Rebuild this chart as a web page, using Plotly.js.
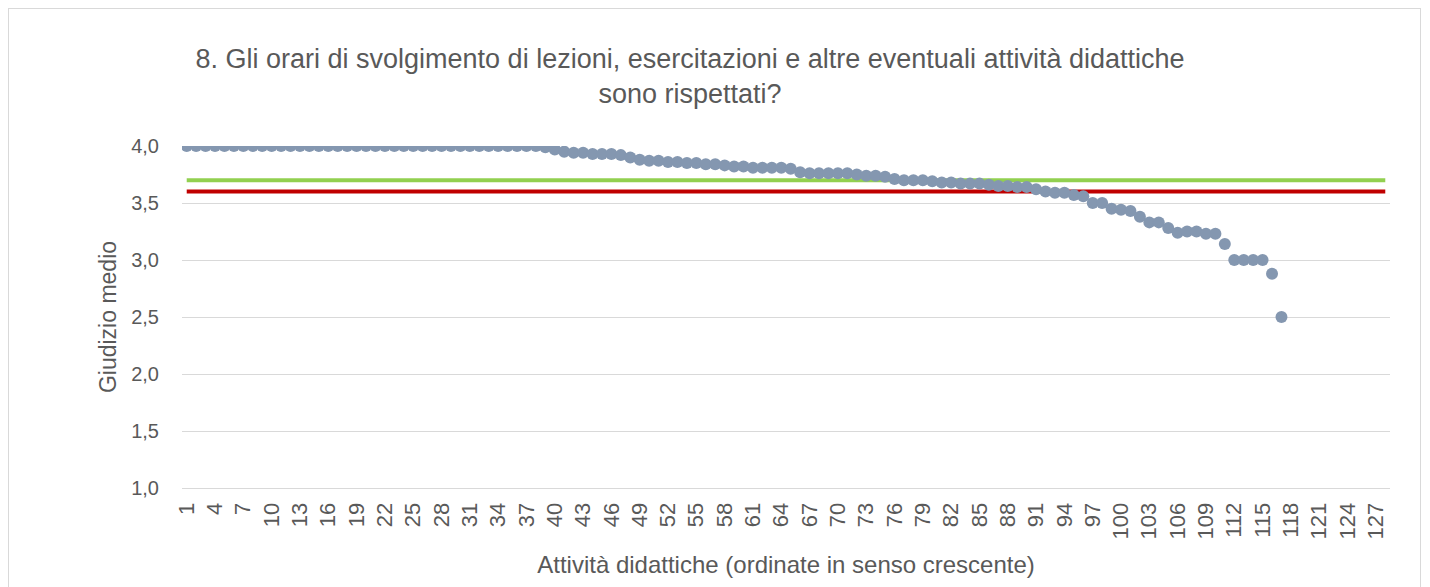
<!DOCTYPE html>
<html>
<head>
<meta charset="utf-8">
<script src="https://cdn.plot.ly/plotly-3.0.1.min.js"></script>
<style>
html,body{margin:0;padding:0;background:#fff;overflow:hidden;}
#chart{width:1430px;height:587px;position:absolute;left:0;top:0;}
#frame{position:absolute;left:8px;top:8px;width:1411px;height:600px;border:1px solid #d9d9d9;pointer-events:none;}
</style>
</head>
<body>
<div id="chart"></div>
<div id="frame"></div>
<script>
// Number of category slots on the x axis
const categoryCount = 128;
// Average rating per teaching activity, sorted (activities 1..117)
const giudizioMedio = [
  4.00,4.00,4.00,4.00,4.00,4.00,4.00,4.00,4.00,4.00,
  4.00,4.00,4.00,4.00,4.00,4.00,4.00,4.00,4.00,4.00,
  4.00,4.00,4.00,4.00,4.00,4.00,4.00,4.00,4.00,4.00,
  4.00,4.00,4.00,4.00,4.00,4.00,4.00,4.00,3.99,3.97,
  3.95,3.94,3.94,3.93,3.93,3.93,3.92,3.90,3.88,3.87,
  3.87,3.86,3.86,3.85,3.85,3.84,3.84,3.83,3.82,3.82,
  3.81,3.81,3.81,3.81,3.80,3.77,3.76,3.76,3.76,3.76,
  3.76,3.75,3.74,3.74,3.73,3.71,3.70,3.70,3.70,3.69,
  3.68,3.68,3.67,3.67,3.67,3.66,3.65,3.65,3.64,3.64,
  3.62,3.60,3.59,3.59,3.57,3.56,3.50,3.50,3.45,3.44,
  3.43,3.38,3.33,3.33,3.28,3.24,3.25,3.25,3.23,3.23,
  3.14,3.00,3.00,3.00,3.00,2.88,2.50
];
// Reference lines
const lineaVerde = 3.7;
const lineaRossa = 3.6;
// Tick labels every 3 categories (1..127)
const tickValues = [];
for (let i = 1; i <= 127; i += 3) tickValues.push(i);
const tickLabels = tickValues.map(String);
const yTicks = [1.0,1.5,2.0,2.5,3.0,3.5,4.0];

const xs = giudizioMedio.map((_, i) => i + 1);
const txtColor = '#595959';
const font = 'Liberation Sans, Arial, sans-serif';

const traces = [
  {x:[1, categoryCount], y:[lineaVerde, lineaVerde], mode:'lines', line:{color:'#92d050', width:4}, hoverinfo:'skip', showlegend:false},
  {x:[1, categoryCount], y:[lineaRossa, lineaRossa], mode:'lines', line:{color:'#c00000', width:4}, hoverinfo:'skip', showlegend:false},
  {x:xs, y:giudizioMedio, mode:'markers', marker:{color:'#8497b0', size:12}, showlegend:false}
];

const layout = {
  width:1430, height:587,
  paper_bgcolor:'#fff', plot_bgcolor:'#fff',
  separators:',.',
  font:{family:font, color:txtColor, size:16},
  margin:{l:182, r:40, t:146, b:99, autoexpand:false},
  title:{
    text:'8. Gli orari di svolgimento di lezioni, esercitazioni e altre eventuali attività didattiche<br>sono rispettati?',
    font:{family:font, size:27, color:txtColor},
    xref:'container', yref:'container', x:690/1430, xanchor:'center', y:1-68/587, yanchor:'middle'
  },
  xaxis:{
    range:[0.5, categoryCount + 0.5],
    tickmode:'array', tickvals:tickValues, ticktext:tickLabels,
    tickangle:-90, tickfont:{size:22, color:txtColor},
    showgrid:false, zeroline:false,
    showline:true, linecolor:'#d9d9d9', linewidth:1,
    ticks:'outside', ticklen:5, tickcolor:'rgba(0,0,0,0)', automargin:false,
    title:{text:'Attività didattiche (ordinate in senso crescente)', font:{size:24, color:txtColor}, standoff:17}
  },
  yaxis:{
    range:[1, 4], tickmode:'array', tickvals:yTicks, tickformat:'.1f',
    tickfont:{size:20, color:txtColor},
    showgrid:true, gridcolor:'#d9d9d9', gridwidth:1,
    zeroline:false, showline:false,
    ticks:'outside', ticklen:18, tickcolor:'rgba(0,0,0,0)', automargin:false,
    title:{text:'Giudizio medio', font:{size:23, color:txtColor}, standoff:8}
  }
};

Plotly.newPlot('chart', traces, layout, {displayModeBar:false, staticPlot:true});
</script>
</body>
</html>
